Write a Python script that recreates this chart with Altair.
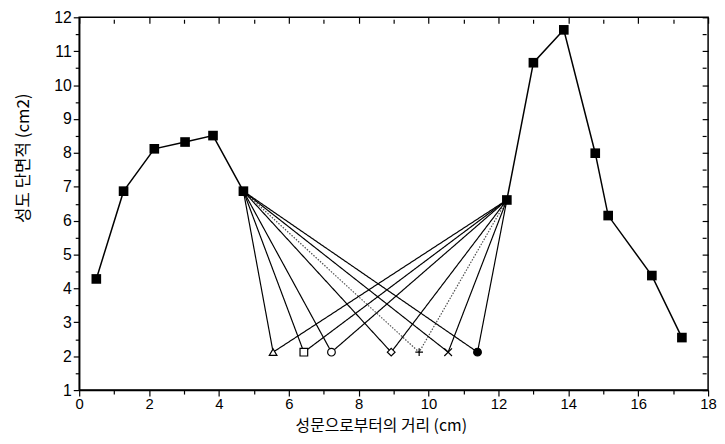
import altair as alt
import pandas as pd

# main contour (filled squares)
left_x = [0.49, 1.27, 2.15, 3.03, 3.83, 4.70]
left_y = [4.28, 6.87, 8.12, 8.32, 8.51, 6.87]
right_x = [12.24, 13.00, 13.87, 14.77, 15.14, 16.39, 17.25]
right_y = [6.61, 10.66, 11.63, 7.99, 6.15, 4.38, 2.55]

# constriction variants
var_names = ["tri", "sq", "circ", "dia", "plus", "x", "dot"]
var_x = [5.55, 6.43, 7.22, 8.93, 9.73, 10.56, 11.40]
var_y = [2.12, 2.12, 2.12, 2.12, 2.12, 2.12, 2.12]
var_shapes = ["triangle-up", "square", "circle", "diamond",
              "M-1,0L1,0M0,-1L0,1", "M-1,-1L1,1M1,-1L-1,1", "circle"]
var_fill = ["white", "white", "white", "white", "white", "white", "black"]
var_dash = ["solid", "solid", "solid", "solid", "dot", "solid", "solid"]

main_rows = []
for i, (x, y) in enumerate(zip(left_x, left_y)):
    main_rows.append({"seg": "L", "ord": i, "x": x, "y": y})
for i, (x, y) in enumerate(zip(right_x, right_y)):
    main_rows.append({"seg": "R", "ord": i, "x": x, "y": y})
main_df = pd.DataFrame(main_rows)

fan_rows = []
for n, x, y, d in zip(var_names, var_x, var_y, var_dash):
    fan_rows.append({"g": n, "ord": 0, "x": left_x[-1], "y": left_y[-1], "dash": d})
    fan_rows.append({"g": n, "ord": 1, "x": x, "y": y, "dash": d})
    fan_rows.append({"g": n, "ord": 2, "x": right_x[0], "y": right_y[0], "dash": d})
fan_df = pd.DataFrame(fan_rows)

var_df = pd.DataFrame({"g": var_names, "x": var_x, "y": var_y})

FONT = "Liberation Sans"
KFONT = "Noto Sans CJK KR"

xscale = alt.Scale(domain=[0, 18], nice=False, zero=False)
yscale = alt.Scale(domain=[1, 12], nice=False, zero=False)

xvals = list(range(0, 19))
yvals = [1 + 0.5 * i for i in range(23)]

x_axis = alt.Axis(
    values=xvals, labelExpr="datum.value % 2 == 0 ? format(datum.value, 'd') : ''",
    tickSize={"condition": {"test": "datum.value % 2 == 0", "value": 6}, "value": 4},
    title="성문으로부터의 거리 (cm)", titleFont=KFONT, titleFontSize=16,
    titleFontWeight="normal", titleX=305, titleY=36, titleBaseline="middle",
    labelFont=FONT, labelFontSize=15, labelPadding=1, grid=False,
    domainColor="black", tickColor="black", labelColor="black", titleColor="black",
    domainWidth=1.5, tickWidth=1.2, labelFlush=False, labelOverlap=False,
)
y_axis = alt.Axis(
    values=yvals, labelExpr="datum.value % 1 == 0 ? format(datum.value, 'd') : ''",
    tickSize={"condition": {"test": "datum.value % 1 == 0", "value": 6}, "value": 4},
    title="성도 단면적 (cm2)", titleFont=KFONT, titleFontSize=17,
    titleFontWeight="normal", titleX=-56, titleY=142, titleBaseline="middle",
    labelFont=FONT, labelFontSize=16, labelPadding=2, grid=False,
    domainColor="black", tickColor="black", labelColor="black", titleColor="black",
    domainWidth=1.5, tickWidth=1.2, labelFlush=False, labelOverlap=False,
)

X = lambda: alt.X("x:Q", scale=xscale, axis=None)
Y = lambda: alt.Y("y:Q", scale=yscale, axis=None)

main_line = alt.Chart(main_df).mark_line(color="black", strokeWidth=1.5).encode(
    x=alt.X("x:Q", scale=xscale, axis=x_axis),
    y=alt.Y("y:Q", scale=yscale, axis=y_axis),
    detail="seg:N",
    order="ord:Q",
)
main_pts = alt.Chart(main_df).mark_point(
    shape="square", filled=True, color="black", size=95, opacity=1
).encode(x=X(), y=Y())

fan = alt.Chart(fan_df).mark_line(color="black", strokeWidth=1.2).encode(
    x=X(),
    y=Y(),
    detail="g:N",
    order="ord:Q",
    strokeDash=alt.StrokeDash(
        "dash:N", scale=alt.Scale(domain=["solid", "dot"], range=[[1, 0], [1.5, 1.5]]),
        legend=None),
    opacity=alt.Opacity("dash:N", scale=alt.Scale(domain=["solid", "dot"], range=[1, 0.7]),
                        legend=None),
)

var_pts = alt.Chart(var_df).mark_point(
    stroke="black", strokeWidth=1.2, size=60, opacity=1
).encode(
    x=X(),
    y=Y(),
    shape=alt.Shape("g:N", scale=alt.Scale(domain=var_names, range=var_shapes), legend=None),
    fill=alt.Fill("g:N", scale=alt.Scale(domain=var_names, range=var_fill), legend=None),
)

# mirror axes (top and right) with inward ticks
mirror = alt.Chart(main_df).mark_point(opacity=0).encode(
    x=alt.X("x:Q", scale=xscale, axis=alt.Axis(
        orient="top", values=xvals, labels=False, title=None, domain=False, grid=False,
        tickSize={"condition": {"test": "datum.value % 2 == 0", "value": 6}, "value": 4},
        offset=-6, tickColor="black", tickWidth=1.2)),
    y=alt.Y("y:Q", scale=yscale, axis=alt.Axis(
        orient="right", values=yvals, labels=False, title=None, domain=False, grid=False,
        tickSize={"condition": {"test": "datum.value % 1 == 0", "value": 6}, "value": 4},
        offset=-6, tickColor="black", tickWidth=1.2)),
)

chart = alt.layer(mirror, fan, main_line, main_pts, var_pts).resolve_axis(
    x="independent", y="independent"
).properties(
    width=636, height=377,
    autosize=alt.AutoSizeParams(type="none"),
    padding={"left": 72, "top": 7, "right": 9, "bottom": 44},
    background="white",
).configure_view(stroke="black", strokeWidth=1.5)

chart.save("out.html", embed_options={"renderer": "svg", "actions": False})
